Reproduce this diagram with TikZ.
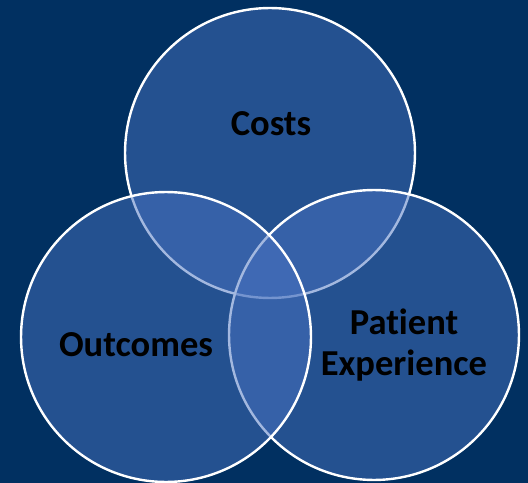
\documentclass[tikz,border=0pt]{standalone}
\usepackage{fontspec}
\setmainfont[Ligatures={NoCommon,NoContextual,NoRare}]{Carlito}
\definecolor{panelnavy}{RGB}{1,48,97}
\definecolor{vennblue}{RGB}{72,114,192}
% keep "t" and "i" as separate glyphs
\newcommand{\tisep}{\kern0pt}
\begin{document}
\begin{tikzpicture}[x=0.02cm,y=-0.02cm,
  venn/.style={circle, draw=white, line width=0.048cm, fill=vennblue,
    fill opacity=0.5, draw opacity=1, minimum size=5.8cm, inner sep=0pt},
  label/.style={text=black, font=\bfseries\fontsize{20.8pt}{23.4pt}\selectfont, align=center, inner sep=0pt}]
  % background panel
  \fill[panelnavy] (0,0) rectangle (528,483);
  \useasboundingbox (0,0) rectangle (528,483);
  % the three overlapping circles
  \node[venn] (costs) at (270,153) {};
  \node[venn] (patient) at (374,335) {};
  \node[venn] (outcomes) at (166,337) {};
  % labels
  \node[label] (tcosts) at (271,124) {Costs};
  \node[label] (toutcomes) at (136,345) {Outcomes};
  \node[label] (tpatient) at (404,345) {Pat\tisep ient\\Experience};
\end{tikzpicture}
\end{document}
